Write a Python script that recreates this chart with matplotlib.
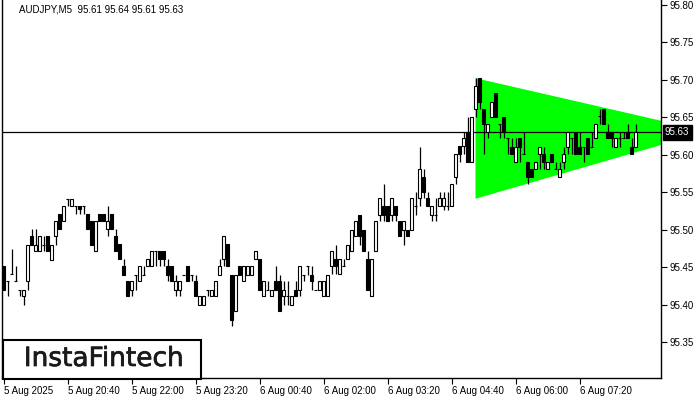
import matplotlib
matplotlib.use("Agg")
import matplotlib.pyplot as plt
import matplotlib.patheffects as pe
from matplotlib.patches import Rectangle
import numpy as np

# AUDJPY M5, bar by bar (open, high, low, close)
opens = [
    95.452, 95.432, 95.441, 95.432, 95.420, 95.411, 95.431, 95.491, 95.471, 95.471,
    95.480, 95.491, 95.460, 95.491, 95.521, 95.511, 95.541, 95.531, 95.531, 95.531,
    95.531, 95.521, 95.511, 95.471, 95.521, 95.521, 95.501, 95.521, 95.491, 95.481,
    95.451, 95.431, 95.420, 95.440, 95.431, 95.440, 95.451, 95.451, 95.471, 95.471,
    95.471, 95.451, 95.451, 95.420, 95.420, 95.440, 95.451, 95.440, 95.431, 95.400,
    95.400, 95.420, 95.411, 95.411, 95.440, 95.461, 95.481, 95.440, 95.391, 95.451,
    95.431, 95.440, 95.440, 95.461, 95.461, 95.411, 95.420, 95.411, 95.431, 95.431,
    95.411, 95.411, 95.400, 95.420, 95.420, 95.440, 95.451, 95.440, 95.420, 95.420,
    95.411, 95.411, 95.451, 95.461, 95.441, 95.451, 95.461, 95.471, 95.491, 95.520,
    95.500, 95.461, 95.411, 95.471, 95.520, 95.532, 95.532, 95.520, 95.532, 95.511,
    95.500, 95.500, 95.500, 95.532, 95.542, 95.571, 95.542, 95.520, 95.520, 95.531,
    95.531, 95.531, 95.531, 95.571, 95.612, 95.612, 95.631, 95.591, 95.661, 95.702,
    95.661, 95.631, 95.651, 95.682, 95.641, 95.651, 95.622, 95.611, 95.591, 95.622,
    95.601, 95.591, 95.581, 95.581, 95.601, 95.601, 95.581, 95.601, 95.581, 95.571,
    95.591, 95.611, 95.622, 95.631, 95.611, 95.611, 95.622, 95.611, 95.622, 95.652,
    95.661, 95.631, 95.631, 95.611, 95.622, 95.622, 95.631, 95.611, 95.611,
]
highs = [
    95.452, 95.432, 95.474, 95.452, 95.420, 95.420, 95.480, 95.501, 95.501, 95.491,
    95.491, 95.491, 95.480, 95.511, 95.521, 95.531, 95.541, 95.541, 95.531, 95.531,
    95.531, 95.521, 95.511, 95.511, 95.521, 95.521, 95.531, 95.521, 95.501, 95.481,
    95.461, 95.431, 95.431, 95.440, 95.451, 95.451, 95.461, 95.471, 95.471, 95.471,
    95.471, 95.461, 95.451, 95.440, 95.431, 95.440, 95.451, 95.440, 95.440, 95.411,
    95.411, 95.420, 95.420, 95.431, 95.461, 95.492, 95.481, 95.440, 95.440, 95.451,
    95.451, 95.451, 95.451, 95.471, 95.461, 95.431, 95.431, 95.420, 95.451, 95.440,
    95.431, 95.431, 95.411, 95.431, 95.451, 95.440, 95.451, 95.451, 95.420, 95.431,
    95.432, 95.440, 95.471, 95.480, 95.461, 95.461, 95.480, 95.500, 95.511, 95.520,
    95.500, 95.471, 95.461, 95.511, 95.542, 95.561, 95.532, 95.542, 95.532, 95.511,
    95.511, 95.500, 95.542, 95.551, 95.611, 95.581, 95.551, 95.532, 95.542, 95.551,
    95.551, 95.551, 95.561, 95.601, 95.612, 95.631, 95.651, 95.651, 95.702, 95.702,
    95.661, 95.641, 95.671, 95.682, 95.641, 95.651, 95.622, 95.622, 95.622, 95.622,
    95.631, 95.591, 95.581, 95.591, 95.611, 95.611, 95.591, 95.601, 95.591, 95.591,
    95.611, 95.631, 95.622, 95.631, 95.631, 95.611, 95.622, 95.631, 95.641, 95.661,
    95.661, 95.641, 95.631, 95.622, 95.631, 95.631, 95.641, 95.622, 95.641,
]
lows = [
    95.420, 95.411, 95.441, 95.431, 95.411, 95.400, 95.420, 95.480, 95.471, 95.471,
    95.471, 95.471, 95.460, 95.480, 95.501, 95.511, 95.531, 95.531, 95.521, 95.521,
    95.521, 95.501, 95.480, 95.471, 95.511, 95.511, 95.491, 95.501, 95.471, 95.461,
    95.440, 95.411, 95.411, 95.420, 95.431, 95.440, 95.451, 95.451, 95.451, 95.451,
    95.451, 95.431, 95.431, 95.411, 95.411, 95.440, 95.431, 95.431, 95.411, 95.400,
    95.400, 95.411, 95.411, 95.411, 95.440, 95.451, 95.451, 95.371, 95.391, 95.440,
    95.431, 95.440, 95.440, 95.461, 95.420, 95.411, 95.420, 95.411, 95.420, 95.391,
    95.400, 95.400, 95.400, 95.411, 95.411, 95.431, 95.440, 95.420, 95.420, 95.420,
    95.411, 95.411, 95.441, 95.441, 95.441, 95.451, 95.461, 95.471, 95.491, 95.480,
    95.471, 95.420, 95.411, 95.471, 95.511, 95.511, 95.511, 95.511, 95.511, 95.491,
    95.480, 95.491, 95.500, 95.520, 95.532, 95.542, 95.532, 95.511, 95.511, 95.531,
    95.526, 95.526, 95.531, 95.561, 95.591, 95.601, 95.591, 95.591, 95.651, 95.661,
    95.601, 95.622, 95.651, 95.651, 95.622, 95.622, 95.601, 95.601, 95.591, 95.591,
    95.601, 95.561, 95.571, 95.581, 95.581, 95.581, 95.581, 95.591, 95.581, 95.571,
    95.581, 95.601, 95.601, 95.601, 95.601, 95.591, 95.601, 95.611, 95.622, 95.641,
    95.641, 95.622, 95.611, 95.611, 95.611, 95.622, 95.622, 95.601, 95.611,
]
closes = [
    95.420, 95.432, 95.441, 95.432, 95.420, 95.420, 95.480, 95.480, 95.480, 95.491,
    95.480, 95.471, 95.480, 95.511, 95.501, 95.531, 95.541, 95.541, 95.531, 95.528,
    95.531, 95.501, 95.480, 95.511, 95.511, 95.511, 95.511, 95.501, 95.471, 95.461,
    95.440, 95.411, 95.431, 95.440, 95.451, 95.440, 95.461, 95.471, 95.471, 95.461,
    95.461, 95.440, 95.431, 95.431, 95.431, 95.440, 95.431, 95.440, 95.411, 95.411,
    95.411, 95.420, 95.420, 95.431, 95.451, 95.492, 95.451, 95.380, 95.440, 95.440,
    95.451, 95.451, 95.451, 95.471, 95.420, 95.431, 95.420, 95.420, 95.420, 95.391,
    95.420, 95.411, 95.411, 95.411, 95.451, 95.440, 95.451, 95.431, 95.420, 95.431,
    95.432, 95.440, 95.471, 95.451, 95.461, 95.451, 95.480, 95.500, 95.511, 95.491,
    95.471, 95.420, 95.461, 95.511, 95.542, 95.520, 95.511, 95.542, 95.520, 95.491,
    95.511, 95.491, 95.542, 95.532, 95.581, 95.551, 95.532, 95.532, 95.520, 95.542,
    95.542, 95.531, 95.561, 95.601, 95.601, 95.622, 95.591, 95.651, 95.692, 95.671,
    95.641, 95.641, 95.671, 95.651, 95.641, 95.631, 95.622, 95.601, 95.611, 95.611,
    95.601, 95.571, 95.571, 95.591, 95.611, 95.591, 95.591, 95.591, 95.581, 95.581,
    95.601, 95.631, 95.622, 95.601, 95.601, 95.611, 95.601, 95.611, 95.641, 95.652,
    95.641, 95.622, 95.622, 95.622, 95.622, 95.622, 95.622, 95.601, 95.631,
]

# symmetrical triangle pattern (bar index, upper and lower edge)
tri_x = [117.85, 164.35]
tri_top = [95.703, 95.646]
tri_bot = [95.542, 95.614]

last_price = 95.63
price_ticks = [95.35, 95.40, 95.45, 95.50, 95.55, 95.60, 95.65, 95.70, 95.75, 95.80]
time_tick_bars = [0, 16, 32, 48, 64, 80, 96, 112, 128, 144]
time_labels = ["5 Aug 2025", "5 Aug 20:40", "5 Aug 22:00", "5 Aug 23:20", "6 Aug 00:40",
               "6 Aug 02:00", "6 Aug 03:20", "6 Aug 04:40", "6 Aug 06:00", "6 Aug 07:20"]
title = "AUDJPY,M5  95.61 95.64 95.61 95.63"

FONT = "Liberation Sans"

fig = plt.figure(figsize=(7, 4), dpi=100)
fig.patch.set_facecolor("white")
ax = fig.add_axes([2 / 700, 22 / 400, 659 / 700, 378 / 400])

o = np.array(opens)
h = np.array(highs)
l = np.array(lows)
c = np.array(closes)
x = np.arange(len(o))

ax.fill_between(tri_x, tri_top, tri_bot, color="#00ff00", lw=0, zorder=1)

ax.vlines(x, l, h, color="black", lw=0.9, zorder=3)
up = c >= o
body_bot = np.minimum(o, c)
body_h = np.abs(c - o)
ax.bar(x[up], body_h[up], bottom=body_bot[up], width=0.58, color="white",
       edgecolor="black", linewidth=0.8, zorder=4)
ax.bar(x[~up], body_h[~up], bottom=body_bot[~up], width=0.58, color="black",
       edgecolor="black", linewidth=0.8, zorder=4)

ax.axhline(last_price, color="black", lw=0.9, zorder=2)

ax.set_xlim(-0.4, 164.35)
ax.set_ylim(95.302, 95.8067)

ax.spines["top"].set_visible(False)
for s in ("left", "right", "bottom"):
    ax.spines[s].set_linewidth(1.0)

ax.yaxis.tick_right()
ax.set_yticks(price_ticks)
ax.set_yticklabels([f"{p:.2f}" for p in price_ticks])
ax.tick_params(axis="y", direction="out", length=4, width=0.8, pad=2, labelsize=7)
ax.set_xticks(time_tick_bars)
ax.set_xticklabels(time_labels)
ax.tick_params(axis="x", direction="out", length=4, width=0.8, pad=2, labelsize=7)
for lab in ax.get_xticklabels():
    lab.set_horizontalalignment("left")
    lab.set_fontfamily(FONT)
for lab in ax.get_yticklabels():
    lab.set_fontfamily(FONT)

# current price box
ax.text(1.006, last_price, f"{last_price:.2f}", transform=ax.get_yaxis_transform(),
        color="white", fontsize=7, family=FONT, va="center", ha="left",
        bbox=dict(boxstyle="square,pad=0.25", fc="black", ec="black"), zorder=6,
        clip_on=False)

fig.text(19 / 700, 1 - 10 / 400, title, fontsize=7, family=FONT, va="center", ha="left")

# logo box
fig.patches.append(Rectangle((3 / 700, 21 / 400), 198 / 700, 39 / 400, transform=fig.transFigure,
                             facecolor="white", edgecolor="black", linewidth=1.5, zorder=10))
fig.text(104 / 700, 1 - 359 / 400, "InstaFintech", fontsize=19, family="DejaVu Sans",
         va="center", ha="center", color="#1a1a1a", zorder=11,
         path_effects=[pe.withStroke(linewidth=0.5, foreground="#1a1a1a")])

fig.savefig("out.png", dpi=100)
